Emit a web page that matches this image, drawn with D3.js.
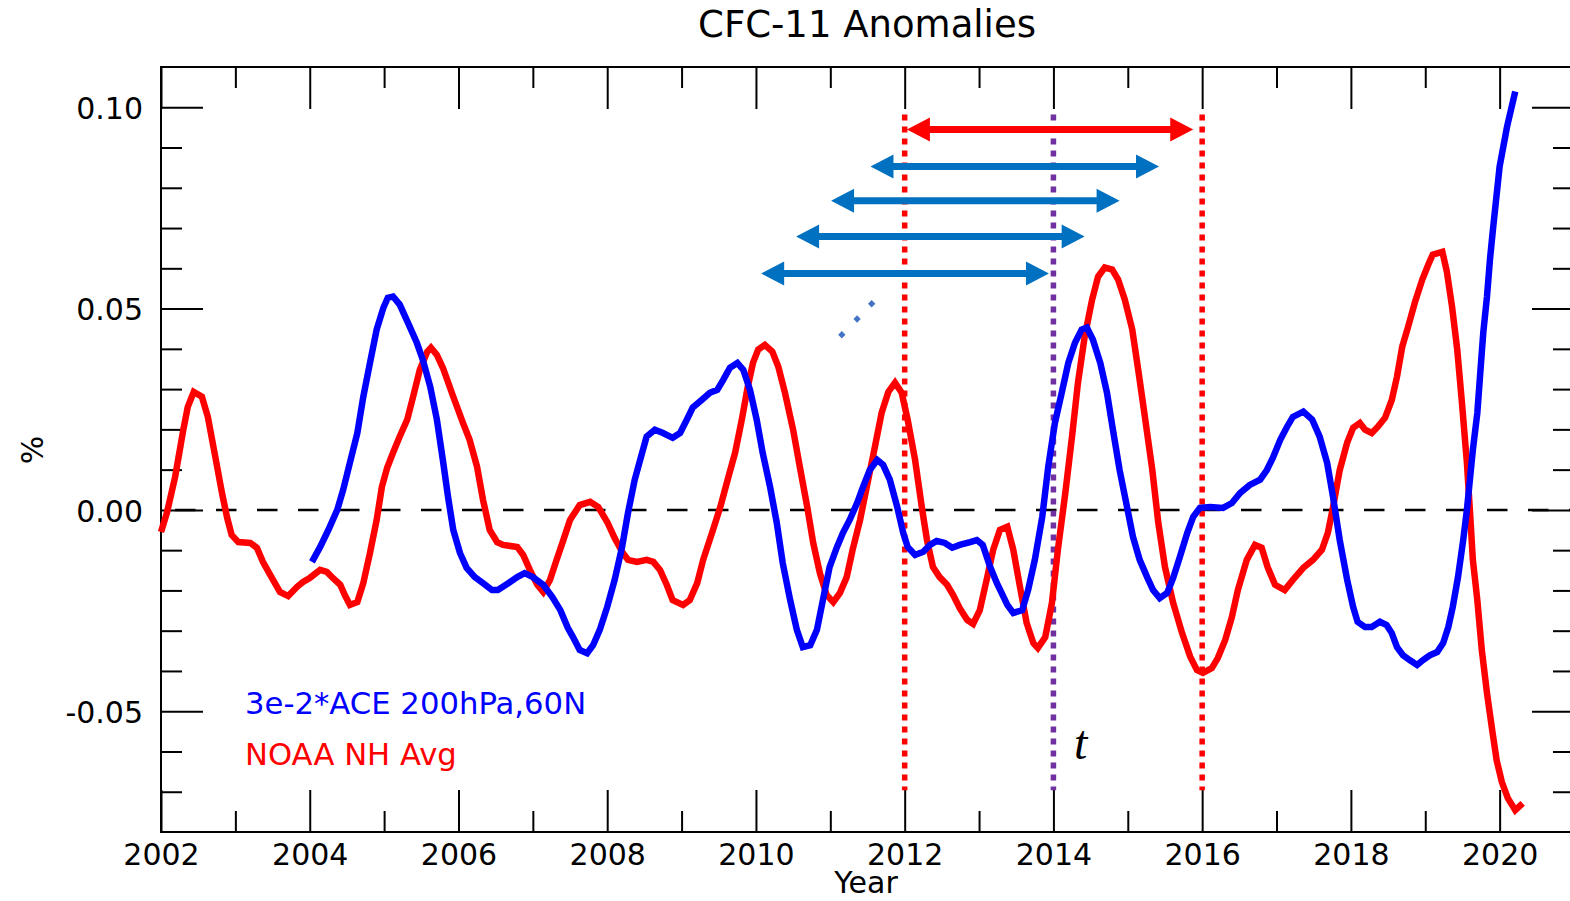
<!DOCTYPE html>
<html>
<head>
<meta charset="utf-8">
<script src="https://cdn.jsdelivr.net/npm/d3@7"></script>
<style>
  body { margin: 0; background: #fff; }
  svg { display: block; }
  text { font-family: "DejaVu Sans", sans-serif; }
</style>
</head>
<body>
<svg id="chart" width="1570" height="901"></svg>
<script>
// NOAA Northern Hemisphere average CFC-11 anomaly, % (year, value)
const noaaNH = [
  [2002.00,-0.0055],[2002.08,-0.0007],[2002.19,0.0082],[2002.30,0.0199],[2002.36,0.0256],
  [2002.44,0.0293],[2002.55,0.0281],[2002.63,0.0231],[2002.73,0.0132],[2002.82,0.0042],
  [2002.89,-0.0020],[2002.95,-0.0062],[2003.04,-0.0080],[2003.20,-0.0082],[2003.29,-0.0094],
  [2003.37,-0.0129],[2003.47,-0.0162],[2003.60,-0.0204],[2003.71,-0.0214],[2003.83,-0.0191],
  [2003.91,-0.0179],[2004.00,-0.0169],[2004.14,-0.0149],[2004.23,-0.0154],[2004.31,-0.0169],
  [2004.41,-0.0186],[2004.47,-0.0211],[2004.54,-0.0236],[2004.64,-0.0229],[2004.72,-0.0182],
  [2004.81,-0.0107],[2004.90,-0.0025],[2004.97,0.0057],[2005.04,0.0104],[2005.12,0.0142],
  [2005.21,0.0182],[2005.31,0.0224],[2005.39,0.0281],[2005.48,0.0348],[2005.58,0.0393],
  [2005.63,0.0403],[2005.71,0.0385],[2005.79,0.0353],[2005.93,0.0281],[2006.06,0.0216],
  [2006.15,0.0174],[2006.25,0.0107],[2006.33,0.0025],[2006.42,-0.0050],[2006.52,-0.0080],
  [2006.60,-0.0087],[2006.79,-0.0092],[2006.87,-0.0112],[2006.96,-0.0149],[2007.06,-0.0186],
  [2007.14,-0.0204],[2007.23,-0.0174],[2007.32,-0.0124],[2007.41,-0.0075],[2007.50,-0.0025],
  [2007.63,0.0012],[2007.77,0.0020],[2007.88,0.0007],[2008.00,-0.0030],[2008.10,-0.0070],
  [2008.21,-0.0107],[2008.28,-0.0124],[2008.40,-0.0129],[2008.53,-0.0124],[2008.62,-0.0129],
  [2008.71,-0.0149],[2008.80,-0.0186],[2008.88,-0.0224],[2009.02,-0.0236],[2009.11,-0.0224],
  [2009.21,-0.0182],[2009.29,-0.0124],[2009.41,-0.0057],[2009.52,0.0007],[2009.62,0.0075],
  [2009.72,0.0142],[2009.81,0.0224],[2009.89,0.0306],[2009.96,0.0365],[2010.03,0.0398],
  [2010.12,0.0410],[2010.22,0.0393],[2010.30,0.0356],[2010.39,0.0291],[2010.50,0.0199],
  [2010.59,0.0107],[2010.69,0.0007],[2010.77,-0.0082],[2010.86,-0.0157],[2010.95,-0.0211],
  [2011.04,-0.0229],[2011.13,-0.0206],[2011.22,-0.0167],[2011.30,-0.0099],[2011.40,-0.0025],
  [2011.49,0.0057],[2011.60,0.0157],[2011.69,0.0241],[2011.78,0.0293],[2011.87,0.0316],
  [2011.96,0.0291],[2012.04,0.0224],[2012.14,0.0124],[2012.23,0.0007],[2012.30,-0.0075],
  [2012.38,-0.0142],[2012.47,-0.0167],[2012.57,-0.0186],[2012.65,-0.0211],[2012.74,-0.0244],
  [2012.84,-0.0273],[2012.92,-0.0283],[2013.01,-0.0249],[2013.11,-0.0167],[2013.19,-0.0099],
  [2013.28,-0.0050],[2013.38,-0.0042],[2013.46,-0.0099],[2013.55,-0.0191],[2013.64,-0.0281],
  [2013.73,-0.0331],[2013.79,-0.0343],[2013.89,-0.0316],[2013.98,-0.0231],[2014.06,-0.0099],
  [2014.16,0.0042],[2014.25,0.0182],[2014.33,0.0316],[2014.42,0.0430],[2014.52,0.0522],
  [2014.60,0.0579],[2014.69,0.0602],[2014.79,0.0597],[2014.87,0.0572],[2014.96,0.0522],
  [2015.06,0.0448],[2015.14,0.0348],[2015.23,0.0231],[2015.33,0.0099],[2015.41,-0.0032],
  [2015.50,-0.0142],[2015.61,-0.0231],[2015.73,-0.0306],[2015.84,-0.0365],[2015.93,-0.0398],
  [2016.01,-0.0405],[2016.13,-0.0393],[2016.21,-0.0368],[2016.31,-0.0323],[2016.40,-0.0266],
  [2016.48,-0.0199],[2016.60,-0.0124],[2016.71,-0.0087],[2016.80,-0.0094],[2016.88,-0.0142],
  [2016.98,-0.0186],[2017.11,-0.0199],[2017.22,-0.0174],[2017.36,-0.0144],[2017.49,-0.0124],
  [2017.61,-0.0099],[2017.69,-0.0057],[2017.76,0.0007],[2017.85,0.0099],[2017.95,0.0167],
  [2018.03,0.0204],[2018.12,0.0216],[2018.19,0.0199],[2018.28,0.0191],[2018.36,0.0206],
  [2018.46,0.0229],[2018.55,0.0273],[2018.62,0.0331],[2018.69,0.0405],[2018.77,0.0455],
  [2018.86,0.0515],[2018.96,0.0572],[2019.04,0.0609],[2019.10,0.0634],[2019.23,0.0641],
  [2019.29,0.0592],[2019.36,0.0505],[2019.43,0.0398],[2019.49,0.0273],[2019.56,0.0117],
  [2019.60,0.0000],[2019.64,-0.0124],[2019.70,-0.0224],[2019.76,-0.0348],[2019.83,-0.0455],
  [2019.90,-0.0547],[2019.96,-0.0622],[2020.03,-0.0676],[2020.11,-0.0716],[2020.21,-0.0746],
  [2020.31,-0.0729]
];

// ACE 200 hPa, 60N CFC-11 anomaly scaled by 3e-2 (year, value)
const ace200 = [
  [2004.03,-0.0129],[2004.14,-0.0092],[2004.25,-0.0050],[2004.37,0.0000],[2004.45,0.0050],
  [2004.54,0.0117],[2004.64,0.0191],[2004.72,0.0281],[2004.81,0.0365],[2004.90,0.0448],
  [2004.99,0.0502],[2005.05,0.0527],[2005.12,0.0530],[2005.21,0.0510],[2005.32,0.0465],
  [2005.44,0.0415],[2005.52,0.0373],[2005.62,0.0306],[2005.71,0.0224],[2005.79,0.0124],
  [2005.86,0.0032],[2005.93,-0.0050],[2006.02,-0.0107],[2006.11,-0.0144],[2006.22,-0.0167],
  [2006.33,-0.0182],[2006.45,-0.0199],[2006.53,-0.0199],[2006.67,-0.0182],[2006.79,-0.0167],
  [2006.89,-0.0157],[2007.00,-0.0167],[2007.14,-0.0186],[2007.26,-0.0216],[2007.37,-0.0249],
  [2007.47,-0.0293],[2007.54,-0.0316],[2007.63,-0.0348],[2007.73,-0.0356],[2007.81,-0.0336],
  [2007.90,-0.0298],[2008.00,-0.0241],[2008.10,-0.0174],[2008.20,-0.0092],[2008.28,-0.0007],
  [2008.37,0.0075],[2008.47,0.0142],[2008.53,0.0182],[2008.64,0.0199],[2008.75,0.0191],
  [2008.88,0.0179],[2008.98,0.0191],[2009.07,0.0224],[2009.15,0.0254],[2009.27,0.0273],
  [2009.38,0.0291],[2009.48,0.0298],[2009.56,0.0323],[2009.65,0.0353],[2009.75,0.0365],
  [2009.83,0.0348],[2009.92,0.0298],[2010.01,0.0224],[2010.09,0.0142],[2010.19,0.0057],
  [2010.28,-0.0032],[2010.36,-0.0132],[2010.46,-0.0224],[2010.55,-0.0298],[2010.63,-0.0341],
  [2010.73,-0.0336],[2010.82,-0.0298],[2010.90,-0.0224],[2010.99,-0.0142],[2011.09,-0.0092],
  [2011.17,-0.0057],[2011.26,-0.0025],[2011.36,0.0017],[2011.44,0.0057],[2011.53,0.0099],
  [2011.63,0.0124],[2011.71,0.0112],[2011.80,0.0075],[2011.90,0.0007],[2011.98,-0.0057],
  [2012.04,-0.0092],[2012.14,-0.0112],[2012.25,-0.0104],[2012.34,-0.0087],[2012.43,-0.0077],
  [2012.54,-0.0082],[2012.64,-0.0094],[2012.74,-0.0087],[2012.88,-0.0080],[2012.97,-0.0075],
  [2013.05,-0.0087],[2013.15,-0.0142],[2013.24,-0.0182],[2013.38,-0.0236],[2013.46,-0.0256],
  [2013.58,-0.0249],[2013.66,-0.0199],[2013.75,-0.0124],[2013.85,-0.0017],[2013.93,0.0107],
  [2014.02,0.0216],[2014.12,0.0298],[2014.20,0.0365],[2014.29,0.0415],[2014.38,0.0448],
  [2014.45,0.0453],[2014.53,0.0423],[2014.63,0.0365],[2014.72,0.0291],[2014.80,0.0199],
  [2014.89,0.0099],[2014.99,0.0007],[2015.07,-0.0067],[2015.16,-0.0124],[2015.26,-0.0167],
  [2015.34,-0.0199],[2015.43,-0.0219],[2015.53,-0.0206],[2015.61,-0.0169],[2015.70,-0.0117],
  [2015.80,-0.0057],[2015.88,-0.0017],[2015.97,0.0005],[2016.11,0.0007],[2016.28,0.0005],
  [2016.40,0.0017],[2016.51,0.0042],[2016.64,0.0062],[2016.78,0.0075],[2016.87,0.0099],
  [2016.95,0.0129],[2017.05,0.0174],[2017.14,0.0206],[2017.22,0.0231],[2017.36,0.0244],
  [2017.48,0.0224],[2017.58,0.0182],[2017.68,0.0117],[2017.76,0.0032],[2017.85,-0.0075],
  [2017.95,-0.0174],[2018.03,-0.0241],[2018.09,-0.0278],[2018.19,-0.0291],[2018.28,-0.0291],
  [2018.39,-0.0278],[2018.48,-0.0286],[2018.55,-0.0306],[2018.62,-0.0341],[2018.70,-0.0361],
  [2018.79,-0.0373],[2018.89,-0.0385],[2018.97,-0.0373],[2019.06,-0.0361],[2019.16,-0.0353],
  [2019.24,-0.0331],[2019.31,-0.0291],[2019.37,-0.0241],[2019.44,-0.0167],[2019.51,-0.0075],
  [2019.56,0.0000],[2019.60,0.0075],[2019.64,0.0149],[2019.70,0.0241],[2019.74,0.0341],
  [2019.78,0.0440],[2019.83,0.0530],[2019.87,0.0622],[2019.91,0.0696],[2020.00,0.0853],
  [2020.10,0.0952],[2020.21,0.1039]
];

// Axis ticks
const yMajorTicks = [-0.05, 0.00, 0.05, 0.10];
const yTickLabels = ["-0.05", "0.00", "0.05", "0.10"];
const yMinorTicks = [-0.07, -0.06, -0.04, -0.03, -0.02, -0.01, 0.01, 0.02, 0.03, 0.04, 0.06, 0.07, 0.08, 0.09];
const xMajorTicks = [2002, 2004, 2006, 2008, 2010, 2012, 2014, 2016, 2018, 2020];
const xTickLabels = ["2002", "2004", "2006", "2008", "2010", "2012", "2014", "2016", "2018", "2020"];
const xMinorTicks = [2003, 2005, 2007, 2009, 2011, 2013, 2015, 2017, 2019];

// Reference years marked with vertical dotted lines
const markerYears = [2012, 2014, 2016];
const markerColors = ["#FF0000", "#7030A0", "#FF0000"];
const markerSpan = [-0.0696, 0.0982];

// Lag arrows: [start year, end year, value level]
const lagArrows = [
  [2012.03, 2015.88, 0.0945],
  [2011.54, 2015.42, 0.0853],
  [2011.01, 2014.89, 0.0768],
  [2010.54, 2014.42, 0.0679],
  [2010.07, 2013.94, 0.0587]
];
const lagArrowColors = ["#FF0000", "#0070C0", "#0070C0", "#0070C0", "#0070C0"];

// Dotted continuation marks
const dotMarks = [[2011.155, 0.0435], [2011.36, 0.0474], [2011.556, 0.0512]];

const svg = d3.select("#chart");
const x = d3.scaleLinear().domain([2002, 2021]).range([161, 1574]);
const y = d3.scaleLinear().domain([-0.08, 0.11]).range([832, 67]);
const [x0, x1] = x.range();
const [yb, yt] = y.range();

// Title
svg.append("text").attr("x", 867).attr("y", 37).attr("text-anchor", "middle")
  .attr("font-size", 37).attr("fill", "#000").text("CFC-11 Anomalies");

// Zero reference line
svg.append("line")
  .attr("x1", x0).attr("x2", x1).attr("y1", y(0)).attr("y2", y(0))
  .attr("stroke", "#000").attr("stroke-width", 2.5)
  .attr("stroke-dasharray", "20.5 20.5").attr("stroke-dashoffset", 27);

// Axes with inward ticks
function styleAxis(g) {
  g.select(".domain").remove();
  g.selectAll(".tick line").attr("stroke", "#000").attr("stroke-width", 2);
  g.selectAll(".tick text").attr("font-size", 30).attr("fill", "#000");
}
const MAJ = 42, MIN = 21;

svg.append("g").attr("transform", `translate(0,${yb})`)
  .call(d3.axisBottom(x).tickValues(xMinorTicks).tickSize(-MIN).tickFormat("")).call(styleAxis);
svg.append("g").attr("transform", `translate(0,${yb})`)
  .call(d3.axisBottom(x).tickValues(xMajorTicks).tickSize(-MAJ).tickPadding(12)
    .tickFormat((d, i) => xTickLabels[i])).call(styleAxis);
svg.append("g").attr("transform", `translate(0,${yt})`)
  .call(d3.axisTop(x).tickValues(xMinorTicks).tickSize(-MIN).tickFormat("")).call(styleAxis);
svg.append("g").attr("transform", `translate(0,${yt})`)
  .call(d3.axisTop(x).tickValues(xMajorTicks).tickSize(-MAJ).tickFormat("")).call(styleAxis);

svg.append("g").attr("transform", `translate(${x0},0)`)
  .call(d3.axisLeft(y).tickValues(yMinorTicks).tickSize(-MIN).tickFormat("")).call(styleAxis);
svg.append("g").attr("transform", `translate(${x0},0)`)
  .call(d3.axisLeft(y).tickValues(yMajorTicks).tickSize(-MAJ).tickPadding(18)
    .tickFormat((d, i) => yTickLabels[i])).call(styleAxis)
  .selectAll(".tick text").attr("dy", "0.38em");
svg.append("g").attr("transform", `translate(${x1},0)`)
  .call(d3.axisRight(y).tickValues(yMinorTicks).tickSize(-MIN).tickFormat("")).call(styleAxis);
svg.append("g").attr("transform", `translate(${x1},0)`)
  .call(d3.axisRight(y).tickValues(yMajorTicks).tickSize(-MAJ).tickFormat("")).call(styleAxis);

// Plot frame
svg.append("rect").attr("x", x0).attr("y", yt).attr("width", x1 - x0).attr("height", yb - yt)
  .attr("fill", "none").attr("stroke", "#000").attr("stroke-width", 2);

// Axis titles
svg.append("text").attr("x", 866).attr("y", 893).attr("text-anchor", "middle")
  .attr("font-size", 30).attr("fill", "#000").text("Year");
svg.append("text").attr("transform", "translate(43,450) rotate(-90)").attr("text-anchor", "middle")
  .attr("font-size", 30).attr("fill", "#000").text("%");

// Vertical reference lines
svg.append("g").selectAll("line").data(markerYears).join("line")
  .attr("x1", d => x(d)).attr("x2", d => x(d))
  .attr("y1", y(markerSpan[1])).attr("y2", y(markerSpan[0]))
  .attr("stroke", (d, i) => markerColors[i]).attr("stroke-width", 5.5)
  .attr("stroke-dasharray", "6 6");

// Data series
const line = d3.line().x(d => x(d[0])).y(d => y(d[1]));
svg.append("path").datum(noaaNH).attr("d", line)
  .attr("fill", "none").attr("stroke", "#FF0000").attr("stroke-width", 6.5);
svg.append("path").datum(ace200).attr("d", line)
  .attr("fill", "none").attr("stroke", "#0000FF").attr("stroke-width", 6.5);

// Double-headed lag arrows
const headLen = 23, headHalf = 12, shaftHalf = 3.5;
svg.append("g").selectAll("path").data(lagArrows).join("path")
  .attr("fill", (d, i) => lagArrowColors[i])
  .attr("d", d => {
    const a = x(d[0]), b = x(d[1]), c = y(d[2]);
    return `M${a},${c} L${a + headLen},${c - headHalf} L${a + headLen},${c - shaftHalf}` +
      ` L${b - headLen},${c - shaftHalf} L${b - headLen},${c - headHalf} L${b},${c}` +
      ` L${b - headLen},${c + headHalf} L${b - headLen},${c + shaftHalf}` +
      ` L${a + headLen},${c + shaftHalf} L${a + headLen},${c + headHalf} Z`;
  });

// Small diamond dots
svg.append("g").selectAll("path").data(dotMarks).join("path")
  .attr("transform", d => `translate(${x(d[0])},${y(d[1])}) rotate(45)`)
  .attr("d", "M-2.6,-2.6 H2.6 V2.6 H-2.6 Z").attr("fill", "#4472C4");

// Lag symbol
svg.append("text").attr("x", 1074).attr("y", 759)
  .style("font-family", "'Liberation Serif', 'DejaVu Serif', serif").style("font-style", "italic")
  .attr("font-size", 48).attr("fill", "#000").text("t");

// Legend
svg.append("text").attr("x", 245).attr("y", 714).attr("font-size", 30.7)
  .attr("fill", "#0000FF").text("3e-2*ACE 200hPa,60N");
svg.append("text").attr("x", 245).attr("y", 765).attr("font-size", 30.7)
  .attr("fill", "#FF0000").text("NOAA NH Avg");
</script>
</body>
</html>
